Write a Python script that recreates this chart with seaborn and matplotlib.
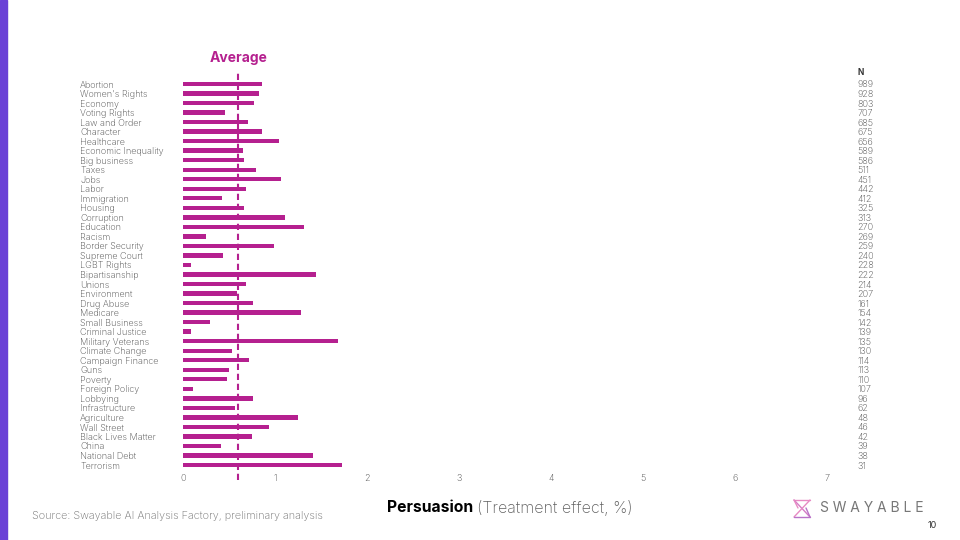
import matplotlib
matplotlib.use('Agg')
import matplotlib.pyplot as plt
import seaborn as sns
import pandas as pd

sns.set_style('white')
plt.rcParams['font.family'] = ['Inter', 'DejaVu Sans']

topics = ['Abortion', "Women's Rights", 'Economy', 'Voting Rights', 'Law and Order',
          'Character', 'Healthcare', 'Economic Inequality', 'Big business', 'Taxes',
          'Jobs', 'Labor', 'Immigration', 'Housing', 'Corruption', 'Education',
          'Racism', 'Border Security', 'Supreme Court', 'LGBT Rights', 'Bipartisanship',
          'Unions', 'Environment', 'Drug Abuse', 'Medicare', 'Small Business',
          'Criminal Justice', 'Military Veterans', 'Climate Change', 'Campaign Finance',
          'Guns', 'Poverty', 'Foreign Policy', 'Lobbying', 'Infrastructure',
          'Agriculture', 'Wall Street', 'Black Lives Matter', 'China', 'National Debt',
          'Terrorism']
effect = [0.855, 0.83, 0.775, 0.46, 0.71,
          0.855, 1.04, 0.65, 0.66, 0.79,
          1.065, 0.68, 0.42, 0.66, 1.105, 1.32,
          0.25, 0.99, 0.43, 0.087, 1.446,
          0.69, 0.587, 0.757, 1.28, 0.29,
          0.087, 1.685, 0.533, 0.717,
          0.50, 0.48, 0.109, 0.757, 0.565,
          1.25, 0.93, 0.746, 0.41, 1.413,
          1.725]
n_resp = [989, 928, 803, 707, 685, 675, 656, 589, 586, 511, 451, 442, 412, 325, 313,
          270, 269, 259, 240, 228, 222, 214, 207, 161, 154, 142, 139, 135, 130, 114,
          113, 110, 107, 96, 62, 48, 46, 42, 39, 38, 31]
average = 0.6
x_ticks = [0, 1, 2, 3, 4, 5, 6, 7]

magenta = '#b5208f'
gray = '#484848'

df = pd.DataFrame({'topic': topics, 'effect': effect})

fig = plt.figure(figsize=(9.6, 5.4), dpi=100)
fig.patches.append(plt.Rectangle((0, 0), 7 / 960, 1, transform=fig.transFigure,
                                 color='#6a40d6', zorder=0))

ax = fig.add_axes([183 / 960, 1 - 469.8 / 540, 644 / 960, 390.6 / 540])
sns.barplot(data=df, x='effect', y='topic', orient='h', color=magenta,
            width=0.46, saturation=1, linewidth=0, ax=ax)
ax.set_xlim(0, 7)
ax.set_ylim(len(topics) - 0.5, -0.5)
ax.set_xticks(x_ticks)
ax.set_xticklabels([str(t) for t in x_ticks])
ax.set_xlabel('')
ax.set_ylabel('')
for s in ax.spines.values():
    s.set_visible(False)
ax.tick_params(axis='x', length=0, pad=3, labelsize=6.5, labelcolor=gray)
ax.tick_params(axis='y', length=0, pad=74, labelsize=6.5, labelcolor=gray)
for lab in ax.get_yticklabels():
    lab.set_horizontalalignment('left')
    lab.set_fontweight('light')
for lab in ax.get_xticklabels():
    lab.set_fontweight('light')

ax.axvline(average, ymin=-0.026, ymax=1.018, color=magenta, lw=1.5,
           dashes=(3, 1.8), clip_on=False, zorder=5)
ax.text(average, 1.055, 'Average', transform=ax.get_xaxis_transform(),
        ha='center', va='center', fontsize=10, fontweight='bold', color=magenta)

ax2 = ax.twinx()
ax2.set_ylim(ax.get_ylim())
ax2.set_yticks(range(len(n_resp)))
ax2.set_yticklabels([str(n) for n in n_resp])
for s in ax2.spines.values():
    s.set_visible(False)
ax2.tick_params(axis='y', length=0, pad=22, labelsize=6.5, labelcolor=gray)
for lab in ax2.get_yticklabels():
    lab.set_fontweight('light')
ax2.text(1.048, 1.018, 'N', transform=ax.transAxes, ha='left', va='center',
         fontsize=6, fontweight='bold', color='#333333')

t1 = fig.text(387 / 960, 1 - 508 / 540, 'Persuasion', ha='left', va='center',
              fontsize=11.3, fontweight='bold', color='black')
ax.annotate('(Treatment effect, %)', xy=(1, 0.5), xycoords=t1, xytext=(2.5, 0),
            textcoords='offset points', ha='left', va='center', fontsize=11.6,
            fontweight='light', color='#606060', annotation_clip=False)
fig.text(32 / 960, 1 - 516 / 540, 'Source: Swayable AI Analysis Factory, preliminary analysis',
         ha='left', va='center', fontsize=7.8, fontweight='light', color='#707070')

# logo
def fl(x0, y0, x1, y1, c):
    fig.add_artist(plt.Line2D([x0 / 960, x1 / 960], [1 - y0 / 540, 1 - y1 / 540],
                              transform=fig.transFigure, color=c, lw=1))
fl(794, 500, 810, 500, '#e78ac3')
fl(794, 500, 810, 517, '#d57bc6')
fl(810, 500, 794, 517, '#e78ac3')
fl(794, 517, 810, 517, '#b872c8')
fl(794, 500, 798, 508, '#e78ac3')
fl(810, 517, 806, 508, '#b872c8')
fig.text(820 / 960, 1 - 508 / 540, 'S W A Y A B L E', ha='left', va='center',
         fontsize=10, color='#777777')
fig.text(928 / 960, 1 - 525 / 540, '10', ha='left', va='center', fontsize=6.5,
         color='#333333')

fig.savefig('out.png', dpi=100, facecolor='white')
